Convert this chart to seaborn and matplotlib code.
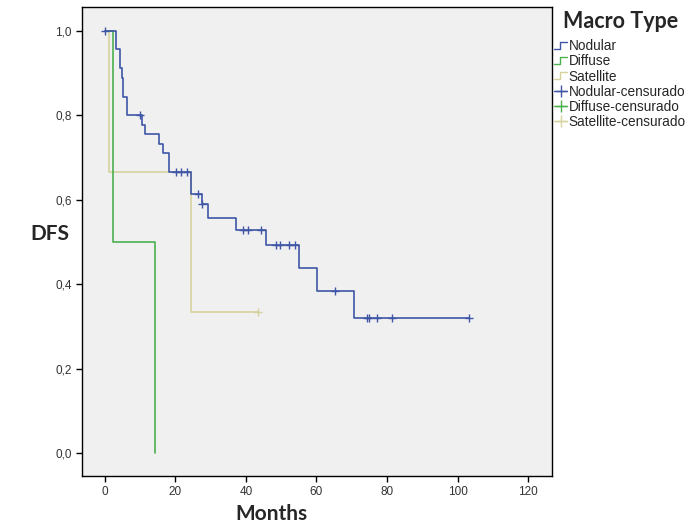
import numpy as np
import pandas as pd
import matplotlib
matplotlib.use("Agg")
import matplotlib.pyplot as plt
import seaborn as sns
from matplotlib.lines import Line2D
from matplotlib.legend_handler import HandlerBase
from matplotlib.ticker import FuncFormatter

# Kaplan-Meier steps (months, DFS)
nodular_times = [0, 3.1, 4.3, 4.8, 5.2, 6.2, 10.5, 11.3, 15.4, 16.5, 18.2, 24.3,
                 27.4, 29.3, 37.2, 45.7, 55.0, 60.1, 70.6, 103.3]
nodular_surv = [1.0, 0.957, 0.912, 0.889, 0.844, 0.800, 0.777, 0.756, 0.732, 0.710,
                0.665, 0.614, 0.590, 0.556, 0.528, 0.493, 0.438, 0.384, 0.320, 0.320]
nodular_cens = [0, 9.9, 20.3, 21.6, 23.2, 26.3, 27.6, 39.2, 40.7, 44.4, 48.5, 49.6,
                52.3, 53.9, 65.2, 74.3, 74.9, 77.2, 81.4, 103.3]

diffuse_times = [0, 2.3, 14.2]
diffuse_surv = [1.0, 0.5, 0.0]
diffuse_cens = []

satellite_times = [0, 1.1, 24.4, 43.4]
satellite_surv = [1.0, 0.667, 0.333, 0.333]
satellite_cens = [43.4]

groups = ["Nodular", "Diffuse", "Satellite"]
colors = {"Nodular": "#3f56a6", "Diffuse": "#4cb04f", "Satellite": "#d6d29e"}

curves = {
    "Nodular": (nodular_times, nodular_surv, nodular_cens),
    "Diffuse": (diffuse_times, diffuse_surv, diffuse_cens),
    "Satellite": (satellite_times, satellite_surv, satellite_cens),
}


def surv_at(times, surv, t):
    # value of the step function just after t
    idx = np.searchsorted(times, t, side="right") - 1
    return np.asarray(surv)[idx]


class StepHandler(HandlerBase):
    def create_artists(self, legend, orig_handle, xdescent, ydescent,
                       width, height, fontsize, trans):
        x0, x1 = -xdescent, -xdescent + width
        xm = x0 + width * 0.45
        y0, y1 = -ydescent + height * 0.15, -ydescent + height * 0.85
        line = Line2D([x0, xm, xm, x1], [y0, y0, y1, y1],
                      color=orig_handle.get_color(), lw=1.0, transform=trans)
        return [line]


sns.set_style("ticks", {"axes.facecolor": "#f0f0f0"})
plt.rcParams["font.family"] = ["Liberation Sans", "DejaVu Sans"]

fig = plt.figure(figsize=(6.9, 5.29), dpi=100)
ax = fig.add_axes([82 / 690, 53 / 529, 470 / 690, 469 / 529])

# draw lower groups first so nodular sits on top
for g in ["Satellite", "Diffuse", "Nodular"]:
    t, s, c = curves[g]
    df = pd.DataFrame({"Months": t, "DFS": s})
    sns.lineplot(data=df, x="Months", y="DFS", ax=ax, color=colors[g],
                 drawstyle="steps-post", lw=1.2, estimator=None, sort=False)
    if len(c):
        cdf = pd.DataFrame({"Months": c, "DFS": [surv_at(t, s, x) for x in c]})
        sns.scatterplot(data=cdf, x="Months", y="DFS", ax=ax, color=colors[g],
                        marker="+", s=40, linewidth=1.0, zorder=3)

ax.set_xlim(-6.5, 126.8)
ax.set_ylim(-0.0545, 1.057)
ax.set_xticks(range(0, 121, 20))
ax.set_yticks([0, 0.2, 0.4, 0.6, 0.8, 1.0])
ax.yaxis.set_major_formatter(FuncFormatter(lambda v, p: f"{v:.1f}".replace(".", ",")))
ax.tick_params(length=4, width=1, color="black", labelsize=8.5, labelcolor="#333333")
for sp in ax.spines.values():
    sp.set_visible(True)
    sp.set_color("black")
    sp.set_linewidth(1)

ax.set_xlabel("Months", family="Lato", fontweight="bold", fontsize=15)
ax.xaxis.set_label_coords(0.402, -0.06)
ax.set_ylabel("DFS", family="Lato", fontweight="bold", fontsize=15, rotation=0,
              ha="center", va="center")
ax.yaxis.set_label_coords(-0.068, 0.516)

handles, labels = [], []
for g in groups:
    handles.append(Line2D([], [], color=colors[g]))
    labels.append(g)
for g in groups:
    handles.append(Line2D([], [], color=colors[g], marker="+", markersize=9, lw=1.0))
    labels.append(g + "-censurado")

fig.text(563 / 690, 1 - 22 / 529, "Macro Type", family="Lato", fontweight="bold",
         fontsize=15.5, ha="left", va="center")

handler_map = {h: StepHandler() for h in handles[:3]}
leg = fig.legend(handles, labels, handler_map=handler_map, loc="upper left",
                 bbox_to_anchor=(553 / 690, 1 - 38 / 529), frameon=False,
                 fontsize=9.8, handlelength=0.95, handletextpad=0.1,
                 labelspacing=0.08, borderaxespad=0, borderpad=0.1)

fig.savefig("out.png", dpi=100, facecolor="white")
